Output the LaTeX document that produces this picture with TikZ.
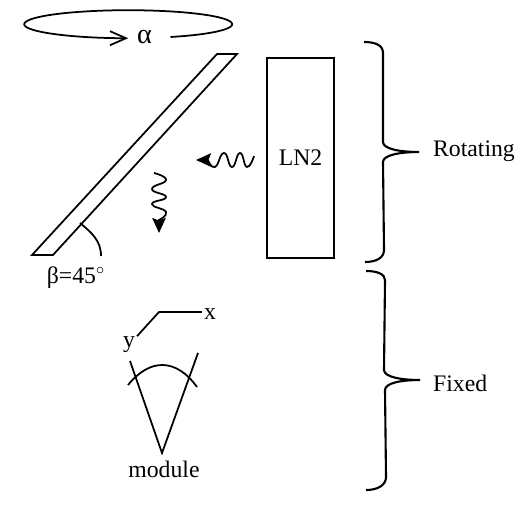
\documentclass[tikz,border=0pt]{standalone}
\usepackage{fontspec}
\setmainfont{Liberation Serif}
\usetikzlibrary{arrows.meta,calc}
\tikzset{
  lbl/.style={font=\fontsize{13.5}{16}\selectfont, inner sep=1pt},
  outline/.style={draw=black, line width=1pt},
  bracket/.style={draw=black, line width=1.2pt},
  wave/.style={draw=black, line width=1pt, -{Stealth[length=0.3cm,width=0.27cm,inset=0.05cm]}}
}

\begin{document}
\begin{tikzpicture}
\useasboundingbox (0,0) rectangle (10.52,10.24);

% Rotation about the vertical
\draw[outline, -{Straight Barb[length=0.32cm,width=0.28cm]}] (3.41,9.50) arc[start angle=-66, end angle=270, x radius=2.08, y radius=0.28];
\node[lbl, font=\fontsize{16}{16}\selectfont] (alpha) at (2.89,9.50) {α};

% Mirror
\draw[outline] (0.64,5.14) -- (1.06,5.14) -- (4.74,9.16) -- (4.34,9.16) -- cycle;
\draw[outline] (2.02,5.12) to[out=90, in=-40] (1.60,5.78);
\node[lbl] (beta) at (1.52,4.68) {β=45$^{\circ}$};

% Photons
\draw[wave] plot[smooth, tension=0.9] coordinates {(5.08,7.12) (4.94,6.90) (4.80,7.18) (4.64,6.90) (4.48,7.18) (4.30,6.90) (4.16,7.04)} -- (3.92,7.04);
\draw[wave] plot[smooth, tension=0.9] coordinates {(3.08,6.78) (3.32,6.64) (3.04,6.46) (3.32,6.30) (3.04,6.16) (3.32,6.00) (3.18,5.84)} -- (3.18,5.58);

% Cold load
\node[lbl, outline, minimum width=1.34cm, minimum height=4cm] (ln2) at (6.01,7.08) {LN2};

% Axes
\node[lbl] (xlab) at (4.20,3.96) {x};
\node[lbl] (ylab) at (2.58,3.34) {y};
\coordinate (corner) at (3.18,4.00);
\draw[outline] (xlab.west |- corner) -- (corner) -- (ylab);

% Module
\node[lbl] (module) at (3.28,0.86) {module};
\draw[outline] (2.60,3.02) -- (3.24,1.18) -- (3.96,3.18);
\draw[outline] (2.56,2.54) .. controls (3.00,3.08) and (3.52,3.08) .. (3.94,2.50);

% Braces
\draw[bracket] (7.28,9.40) .. controls (7.50,9.40) and (7.66,9.34) .. (7.66,9.18) -- (7.66,7.40)
  .. controls (7.66,7.26) and (8.00,7.20) .. (8.38,7.20) .. controls (8.00,7.20) and (7.66,7.14) .. (7.66,7.00)
  -- (7.68,5.24) .. controls (7.68,5.08) and (7.52,5.00) .. (7.30,5.00);
\node[lbl, anchor=west] (rotating) at (8.62,7.22) {Rotating};

\draw[bracket] (7.32,4.82) .. controls (7.54,4.82) and (7.70,4.76) .. (7.70,4.64) -- (7.68,2.84)
  .. controls (7.68,2.70) and (8.02,2.64) .. (8.40,2.64) .. controls (8.02,2.64) and (7.70,2.58) .. (7.70,2.44)
  -- (7.72,0.70) .. controls (7.72,0.54) and (7.56,0.44) .. (7.32,0.44);
\node[lbl, anchor=west] (fixed) at (8.62,2.58) {Fixed};
\end{tikzpicture}
\end{document}
